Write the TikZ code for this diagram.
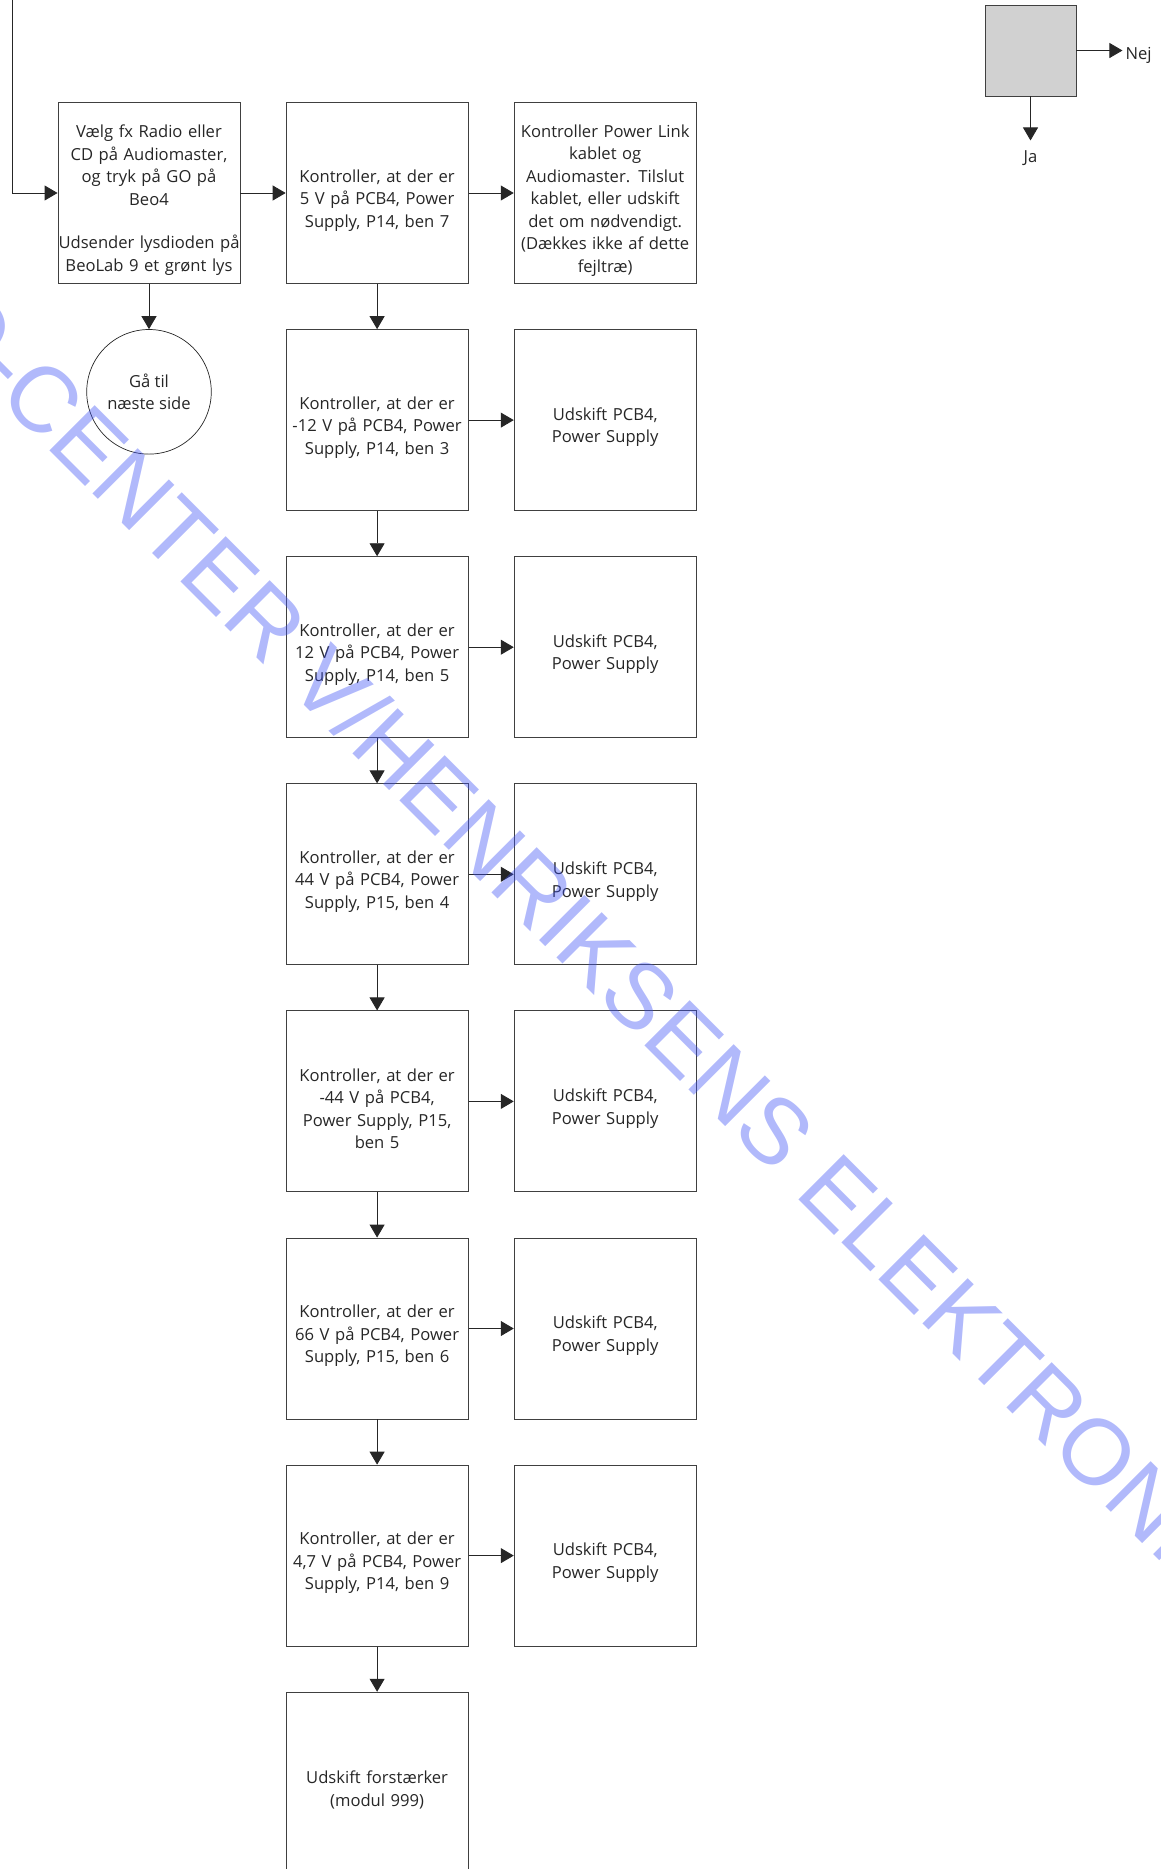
\documentclass[tikz,border=0pt]{standalone}
\usepackage{fontspec}
\setmainfont{Open Sans}
\newfontfamily\wmfont{Liberation Sans}
\usepackage{xcolor}
\usetikzlibrary{positioning,arrows.meta}
\definecolor{wmblue}{RGB}{60,80,245}

\begin{document}
\begin{tikzpicture}[
    x=1pt, y=1pt,
    node distance=45.2pt,
    font=\fontsize{16.6}{22.5}\selectfont,
    box/.style={rectangle, draw=black!75, line width=0.9pt, text width=182pt, inner xsep=0pt, inner ysep=3pt, text height=27pt, align=center, minimum height=181pt, text=black!85},
    arrow/.style={-{Triangle[length=13pt,width=15pt]}, line width=0.9pt, draw=black!85}
]
    \useasboundingbox (0,0) rectangle (1161,-1869);
    \clip (0,0) rectangle (1161,-1869);

    \node[box] (start) at (149,-193) {Vælg fx Radio eller\\CD på Audiomaster,\\og tryk på GO på\\Beo4\\[21pt]Udsender lysdioden på\\BeoLab 9 et grønt lys};
    \node[box, right=of start] (chk5) {Kontroller, at der er\\5 V på PCB4, Power\\Supply, P14, ben 7};
    \node[box, right=of chk5] (link) {Kontroller Power Link\\kablet og\\Audiomaster. Tilslut\\kablet, eller udskift\\det om nødvendigt.\\(Dækkes ikke af dette\\fejltræ)};
    \node[circle, draw=black!85, line width=0.7pt, below=of start, minimum size=124.6pt, inner sep=0pt, align=center, text=black!85] (next) {Gå til\\næste side};

    \node[box, below=of chk5] (chkm12) {Kontroller, at der er\\-12 V på PCB4, Power\\Supply, P14, ben 3};
    \node[box, right=of chkm12] (psua) {Udskift PCB4,\\Power Supply};
    \node[box, below=of chkm12] (chk12) {Kontroller, at der er\\12 V på PCB4, Power\\Supply, P14, ben 5};
    \node[box, right=of chk12] (psub) {Udskift PCB4,\\Power Supply};
    \node[box, below=of chk12] (chk44) {Kontroller, at der er\\44 V på PCB4, Power\\Supply, P15, ben 4};
    \node[box, right=of chk44] (psuc) {Udskift PCB4,\\Power Supply};
    \node[box, below=of chk44] (chkm44) {Kontroller, at der er\\-44 V på PCB4,\\Power Supply, P15,\\ben 5};
    \node[box, right=of chkm44] (psud) {Udskift PCB4,\\Power Supply};
    \node[box, below=of chkm44] (chk66) {Kontroller, at der er\\66 V på PCB4, Power\\Supply, P15, ben 6};
    \node[box, right=of chk66] (psue) {Udskift PCB4,\\Power Supply};
    \node[box, below=of chk66] (chk47) {Kontroller, at der er\\4,7 V på PCB4, Power\\Supply, P14, ben 9};
    \node[box, right=of chk47] (psuf) {Udskift PCB4,\\Power Supply};
    \node[box, below=of chk47] (amp) {Udskift forstærker\\(modul 999)};

    % legend
    \node[box, fill=black!18, text width=91pt, minimum height=91pt] (legend) at (1030.5,-50.5) {};
    \coordinate[right=46pt of legend] (nejtip);
    \coordinate[below=44pt of legend] (jatip);
    \node[right=3pt of nejtip, yshift=-4.5pt, inner sep=0pt, text=black!85] (nej) {Nej};
    \node[below=10pt of jatip, inner sep=0pt, text=black!85] (ja) {Ja};

    \coordinate (entry) at (12,0);
    \draw[arrow] (entry) |- (start);
    \draw[arrow] (start) -- (chk5);
    \draw[arrow] (chk5) -- (link);
    \draw[arrow] (start) -- (next);
    \draw[arrow] (chk5) -- (chkm12);
    \draw[arrow] (chkm12) -- (psua);
    \draw[arrow] (chkm12) -- (chk12);
    \draw[arrow] (chk12) -- (psub);
    \draw[arrow] (chk12) -- (chk44);
    \draw[arrow] (chk44) -- (psuc);
    \draw[arrow] (chk44) -- (chkm44);
    \draw[arrow] (chkm44) -- (psud);
    \draw[arrow] (chkm44) -- (chk66);
    \draw[arrow] (chk66) -- (psue);
    \draw[arrow] (chk66) -- (chk47);
    \draw[arrow] (chk47) -- (psuf);
    \draw[arrow] (chk47) -- (amp);
    \draw[arrow] (legend) -- (nejtip);
    \draw[arrow] (legend) -- (jatip);

    % watermark
    \node[rotate=-45, anchor=base west, inner sep=0pt, text=wmblue, text opacity=0.4, font=\wmfont\fontsize{93}{93}\selectfont] (stamp) at (793,-1194) {\llap{B\&O-CENTER V/HENRIKSENS }ELEKTRONIK};
\end{tikzpicture}
\end{document}
